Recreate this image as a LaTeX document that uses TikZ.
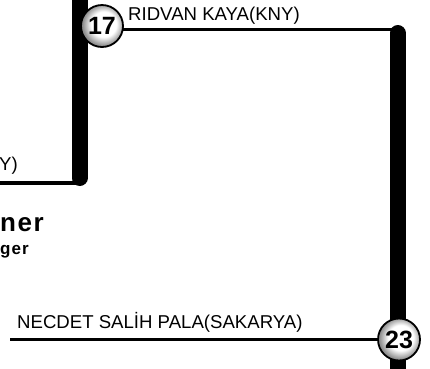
\documentclass[tikz,border=0pt]{standalone}
\usepackage{fontspec}
\setmainfont{Liberation Sans}
\pgfdeclareradialshading{numball}{\pgfpoint{3bp}{3bp}}{color(0bp)=(white); color(15bp)=(white); color(25bp)=(black!45); color(50bp)=(black!45)}
\tikzset{
  thickbar/.style={line width=16pt, black},
  thinline/.style={line width=3.6pt, black},
  numnode/.style={circle, draw=black, line width=1.8pt, shading=numball, minimum size=42pt, inner sep=0pt, font=\fontsize{25}{25}\selectfont\bfseries},
  namelabel/.style={inner sep=0pt, font=\fontsize{18.6}{20}\selectfont},
}
\begin{document}
\begin{tikzpicture}[x=1pt,y=-1pt]
\useasboundingbox (0,0) rectangle (430,368);
\fill[white] (0,0) rectangle (430,368);
% coordinates
\coordinate (ltop) at (79.5,-10);
\coordinate (lbot) at (79.5,178);
\coordinate (lfree) at (0,183);
\coordinate (lcorner) at (79.5,183);
\coordinate (rtop) at (397.5,33);
\coordinate (rcorner) at (397.5,29.5);
\coordinate (rbot) at (397.5,380);
\coordinate (bfree) at (10,339.5);
\coordinate (p17) at (102,26);
\coordinate (p23) at (399,339.5);
% bars
\draw[thickbar, line cap=round] (ltop) -- (lbot);
\draw[thinline] (lfree) -- (lcorner);
\draw[thickbar, line cap=round] (rtop) -- (rbot);
% connectors (drawn under the number circles)
\draw[thinline] (p17 |- rcorner) -- (rcorner);
\draw[thinline] (p23) -- (bfree);
% nodes
\node[numnode] (c17) at (p17) {17};
\node[numnode] (c23) at (p23) {23};
% labels
\node[namelabel, anchor=base west] (ridvan) at (128,20) {RIDVAN KAYA(KNY)};
\node[namelabel, anchor=base west] (necdet) at (17,328) {NECDET SAL\.IH PALA(SAKARYA)};
\node[namelabel, anchor=base east] (yfrag) at (18,170) {Y)};
\node[inner sep=0pt, anchor=base west, font=\fontsize{26}{26}\selectfont\bfseries] (ner) at (0,231) {n\kern1.5pt e\kern1.5pt r};
\node[inner sep=0pt, anchor=base west, font=\fontsize{17}{17}\selectfont\bfseries] (ger) at (0,254) {g\kern1pt e\kern1pt r};
\end{tikzpicture}
\end{document}
